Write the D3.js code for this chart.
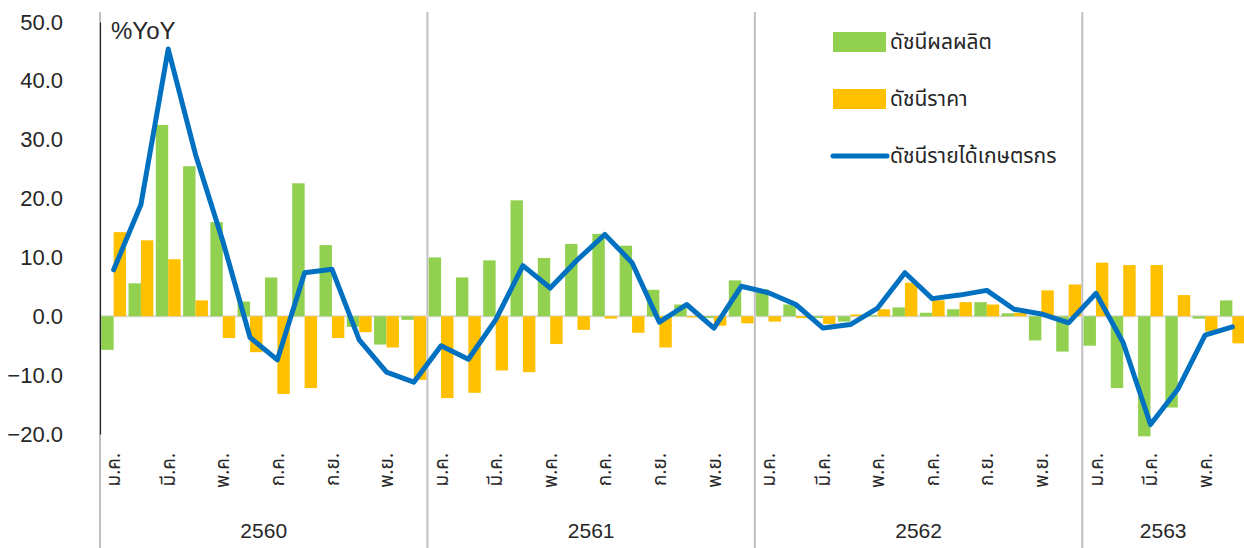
<!DOCTYPE html>
<html>
<head>
<meta charset="utf-8">
<title>ดัชนีรายได้เกษตรกร</title>
<script src="https://d3js.org/d3.v7.min.js"></script>
<style>
  body { margin: 0; background: #fff; }
  text { font-family: "Noto Sans Thai", Tahoma, "Noto Sans", "DejaVu Sans", sans-serif; fill: #262626; }
</style>
</head>
<body>
<div id="chart"></div>
<script>

var years = ["2560", "2561", "2562", "2563"];
var monthsPerYear = [12, 12, 12, 6];
var monthNames = ["ม.ค.", "ก.พ.", "มี.ค.", "เม.ย.", "พ.ค.", "มิ.ย.", "ก.ค.", "ส.ค.", "ก.ย.", "ต.ค.", "พ.ย.", "ธ.ค."];
var shownMonths = ["ม.ค.", "มี.ค.", "พ.ค.", "ก.ค.", "ก.ย.", "พ.ย."];
var yTicks = [-20, -10, 0, 10, 20, 30, 40, 50];

var seriesNames = ["ดัชนีผลผลิต", "ดัชนีราคา", "ดัชนีรายได้เกษตรกร"];

// ดัชนีผลผลิต (green bars)
var production = [
  -5.7, 5.6, 32.5, 25.5, 16.0, 2.5, 6.6, 22.6, 12.1, -1.8, -4.8, -0.6,
  10.0, 6.6, 9.5, 19.7, 9.9, 12.3, 14.0, 12.0, 4.5, 2.0, -0.3, 6.1,
  4.6, 2.0, -0.3, -0.9, 0.2, 1.5, 0.6, 1.2, 2.4, 0.5, -4.1, -6.0,
  -5.0, -12.2, -20.4, -15.5, -0.4, 2.7
];
// ดัชนีราคา (orange bars)
var price = [
  14.3, 12.9, 9.7, 2.7, -3.7, -6.1, -13.2, -12.2, -3.7, -2.7, -5.3, -10.8,
  -13.9, -13.0, -9.2, -9.5, -4.7, -2.3, -0.4, -2.8, -5.3, -0.2, -1.6, -1.2,
  -0.9, -0.3, -1.3, 0.3, 1.2, 5.7, 2.7, 2.4, 2.0, 0.6, 4.4, 5.4,
  9.1, 8.7, 8.7, 3.6, -2.6, -4.6
];
// ดัชนีรายได้เกษตรกร (blue line)
var income = [
  7.9, 19.0, 45.4, 27.5, 12.8, -3.6, -7.4, 7.4, 8.0, -4.0, -9.5, -11.2,
  -5.0, -7.3, -0.6, 8.6, 4.8, 9.6, 13.9, 9.1, -1.0, 2.0, -2.0, 5.1,
  4.0, 2.0, -2.0, -1.4, 1.4, 7.4, 3.0, 3.6, 4.4, 1.2, 0.4, -1.1,
  3.9, -4.5, -18.4, -12.4, -3.2, -1.8
];

var colors = ["#92D050", "#FFC000", "#0070C0"];

var W = 1244, H = 548;
var plot = { left: 100, right: 1246, top: 22, bottom: 434 };

// build month categories
var cats = [];
years.forEach(function(y, yi) {
  for (var m = 0; m < monthsPerYear[yi]; m++) {
    cats.push({ year: y, yi: yi, month: monthNames[m], idx: cats.length });
  }
});

var svg = d3.select("#chart").append("svg")
  .attr("width", W)
  .attr("height", H);

var x = d3.scaleBand()
  .domain(cats.map(function(d) { return d.idx; }))
  .range([plot.left, plot.right])
  .paddingInner(0.09)
  .paddingOuter(0.045);

var xSub = d3.scaleBand()
  .domain([0, 1])
  .range([0, x.bandwidth()]);

var y = d3.scaleLinear()
  .domain([-20, 50])
  .range([plot.bottom, plot.top]);

var step = x.step();
function slotCenter(i) { return plot.left + (i + 0.5) * step; }

// year separators
var yearStarts = [0];
monthsPerYear.forEach(function(n, i) { yearStarts.push(yearStarts[i] + n); });

svg.append("g")
  .selectAll("line")
  .data(yearStarts.slice(0, 4))
  .join("line")
  .attr("x1", function(d) { return plot.left + d * step; })
  .attr("x2", function(d) { return plot.left + d * step; })
  .attr("y1", 12)
  .attr("y2", H)
  .attr("stroke", "#c0c0c0")
  .attr("stroke-width", 2);

// zero line
svg.append("line")
  .attr("x1", plot.left)
  .attr("x2", W)
  .attr("y1", y(0))
  .attr("y2", y(0))
  .attr("stroke", "#d9d9d9")
  .attr("stroke-width", 2);

// bars
var bars = svg.append("g");
bars.selectAll("rect.prod")
  .data(production)
  .join("rect")
  .attr("class", "prod")
  .attr("x", function(d, i) { return x(i) + xSub(0); })
  .attr("width", xSub.bandwidth())
  .attr("y", function(d) { return y(Math.max(0, d)); })
  .attr("height", function(d) { return Math.abs(y(d) - y(0)); })
  .attr("fill", colors[0]);

bars.selectAll("rect.price")
  .data(price)
  .join("rect")
  .attr("class", "price")
  .attr("x", function(d, i) { return x(i) + xSub(1); })
  .attr("width", xSub.bandwidth())
  .attr("y", function(d) { return y(Math.max(0, d)); })
  .attr("height", function(d) { return Math.abs(y(d) - y(0)); })
  .attr("fill", colors[1]);

// line
var line = d3.line()
  .x(function(d, i) { return x(i) + x.bandwidth() / 2; })
  .y(function(d) { return y(d); });

svg.append("path")
  .datum(income)
  .attr("d", line)
  .attr("fill", "none")
  .attr("stroke", colors[2])
  .attr("stroke-width", 5)
  .attr("stroke-linejoin", "round")
  .attr("stroke-linecap", "round");

// y axis
var yAxis = d3.axisLeft(y)
  .tickValues(yTicks)
  .tickSize(0)
  .tickPadding(37)
  .tickFormat(d3.format(".1f"));

var gy = svg.append("g")
  .attr("transform", "translate(" + plot.left + ",0)")
  .call(yAxis);
gy.select(".domain").attr("stroke", "#262626").attr("stroke-width", 1.2);
gy.selectAll("text")
  .style("font-family", "'Liberation Sans', Arial, sans-serif")
  .style("font-size", "22px")
  .attr("fill", "#262626");

// month labels
svg.append("g")
  .selectAll("text")
  .data(cats.filter(function(d) { return shownMonths.indexOf(d.month) >= 0; }))
  .join("text")
  .attr("transform", function(d) { return "translate(" + slotCenter(d.idx) + ",453) rotate(-90)"; })
  .attr("text-anchor", "end")
  .attr("dy", "0.35em")
  .style("font-size", "19px")
  .text(function(d) { return d.month; });

// year labels
svg.append("g")
  .selectAll("text")
  .data(years)
  .join("text")
  .attr("x", function(d, i) {
    var a = plot.left + yearStarts[i] * step;
    var b = Math.min(plot.left + yearStarts[i + 1] * step, W);
    return (a + b) / 2;
  })
  .attr("y", 538)
  .attr("text-anchor", "middle")
  .style("font-family", "'Liberation Sans', Arial, sans-serif")
  .style("font-size", "21px")
  .text(function(d) { return d; });

// %YoY
svg.append("text")
  .attr("x", 111)
  .attr("y", 39)
  .style("font-family", "'Liberation Sans', Arial, sans-serif")
  .style("font-size", "24px")
  .text("%YoY");

// legend
var legend = svg.append("g").attr("transform", "translate(833,0)");
var legY = [42, 99, 156];
seriesNames.forEach(function(name, i) {
  if (i < 2) {
    legend.append("rect")
      .attr("x", 0)
      .attr("y", legY[i] - 10)
      .attr("width", 53)
      .attr("height", 20)
      .attr("fill", colors[i]);
  } else {
    legend.append("line")
      .attr("x1", 0)
      .attr("x2", 54)
      .attr("y1", legY[i])
      .attr("y2", legY[i])
      .attr("stroke", colors[i])
      .attr("stroke-width", 5)
      .attr("stroke-linecap", "round");
  }
  legend.append("text")
    .attr("x", 57)
    .attr("y", legY[i])
    .attr("dy", "0.35em")
    .style("font-size", "21px")
    .text(name);
});

</script>
</body>
</html>
